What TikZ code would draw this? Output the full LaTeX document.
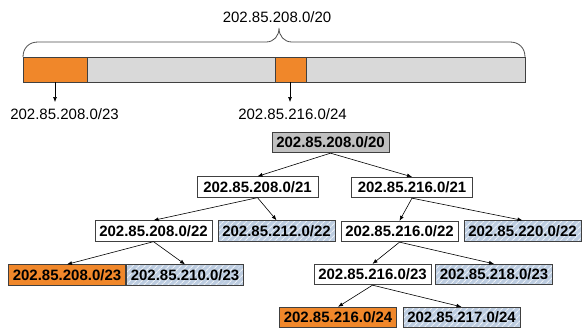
\documentclass[tikz,border=0pt]{standalone}
\usepackage{fontspec}
\setmainfont{Liberation Sans}
\usetikzlibrary{arrows.meta,patterns.meta}
\definecolor{blockorange}{RGB}{240,135,42}
\definecolor{bargray}{RGB}{217,217,217}
\definecolor{rootgray}{RGB}{192,192,192}
\definecolor{freeblue}{RGB}{188,204,224}
\tikzset{
  pfx/.style={draw=black!75, line width=0.8pt, fill=white, font=\fontsize{15}{17}\selectfont\bfseries, minimum width=117pt, minimum height=20.5pt, inner sep=1pt},
  used/.style={pfx, fill=blockorange},
  free/.style={pfx, preaction={fill=freeblue}, pattern={Lines[angle=45,distance=4pt,line width=1.1pt]}, pattern color=white!70!freeblue},
  link/.style={-{Latex[length=5pt,width=4pt]}, line width=0.6pt},
  plain/.style={font=\fontsize{15}{17}\selectfont, inner sep=0pt},
}

\begin{document}
\begin{tikzpicture}[x=1pt, y=-1pt]
\useasboundingbox (0,0) rectangle (583,332);
\draw[line width=0.9pt, black!75, fill=bargray] (23,57) rectangle (525,82);
\draw[line width=0.9pt, black!75, fill=blockorange] (23,57) rectangle (87,82);
\draw[line width=0.9pt, black!75, fill=blockorange] (275,57) rectangle (306,82);
\draw[line width=0.8pt, black!70] (23,57) .. controls (23,48) and (29,42) .. (38,42) -- (266,42)
  .. controls (274,42) and (279,36) .. (279,28) .. controls (279,36) and (284,42) .. (292,42)
  -- (510,42) .. controls (519,42) and (525,48) .. (525,57);
\node[plain] (whole) at (277,17) {202.85.208.0/20};
\coordinate (cutA) at (55,82);
\coordinate (tipA) at (55,102);
\coordinate (cutB) at (290,82);
\coordinate (tipB) at (290,102);
\draw[link] (cutA) -- (tipA);
\draw[link] (cutB) -- (tipB);
\node[plain] (lblA) at (64.5,114.5) {202.85.208.0/23};
\node[plain] (lblB) at (292.5,114.5) {202.85.216.0/24};

\node[pfx, fill=rootgray] (root) at (330.5,142.5) {202.85.208.0/20};
\node[pfx, minimum width=121pt] (a21) at (257.5,187) {202.85.208.0/21};
\node[pfx, minimum width=121pt] (b21) at (412,187.5) {202.85.216.0/21};
\node[pfx] (a22) at (153.5,231) {202.85.208.0/22};
\node[free] (c22) at (276.5,231) {202.85.212.0/22};
\node[pfx] (b22) at (399.5,231.5) {202.85.216.0/22};
\node[free] (d22) at (522.5,231) {202.85.220.0/22};
\node[used] (a23) at (67,275) {202.85.208.0/23};
\node[free] (c23) at (185,275) {202.85.210.0/23};
\node[pfx] (b23) at (372.5,274.5) {202.85.216.0/23};
\node[free] (d23) at (494,274.5) {202.85.218.0/23};
\node[used] (a24) at (338,317.5) {202.85.216.0/24};
\node[free] (c24) at (461.5,317.5) {202.85.217.0/24};

\draw[link] (root.south) -- (a21.north);
\draw[link] (root.south) -- (b21.north);
\draw[link] (a21.south) -- (a22.north);
\draw[link] (a21.south) -- (c22.north);
\draw[link] (b21.south) -- (b22.north);
\draw[link] (b21.south) -- (d22.north);
\draw[link] (a22.south) -- (a23.north);
\draw[link] (a22.south) -- (c23.north);
\draw[link] (b22.south) -- (b23.north);
\draw[link] (b22.south) -- (d23.north);
\draw[link] (b23.south) -- (a24.north);
\draw[link] (b23.south) -- (c24.north);
\end{tikzpicture}
\end{document}
